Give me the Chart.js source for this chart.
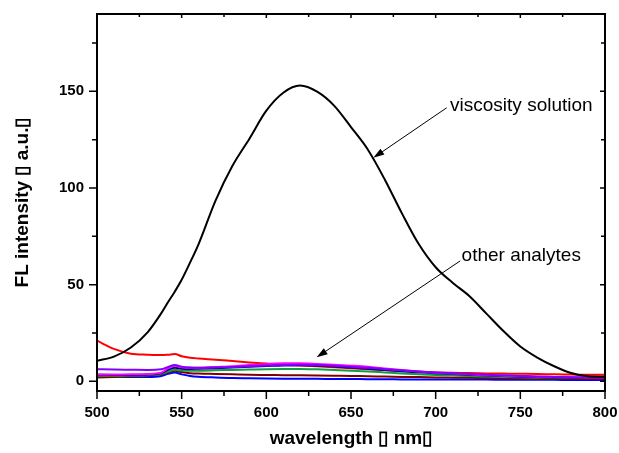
<!DOCTYPE html>
<html>
<head>
<meta charset="utf-8">
<title>FL intensity vs wavelength</title>
<script src="https://cdn.jsdelivr.net/npm/chart.js@4.4.0/dist/chart.umd.min.js"></script>
<style>
  html, body { margin: 0; padding: 0; background: #fff; }
  #wrap { width: 619px; height: 453px; }
</style>
</head>
<body>
<div id="wrap"><canvas id="myChart" width="619" height="453"></canvas></div>
<script>
// wavelength (nm), shared by every spectrum
var wavelengths = [500,510,520,530,538,542,546,550,555,560,570,580,590,600,610,620,630,640,650,660,670,680,690,700,710,720,730,740,750,760,770,780,790,800];

// FL intensity (a.u.)
var viscosity = [10.6,12.8,17.5,25.5,35.3,41,46.5,52.5,61.5,71,93.5,111.5,125.5,140,149.3,153,149.8,142.6,131.5,119.8,104.3,87,71,59,51,44,35,26,18,12.3,7.8,4.3,2.6,2.4];
var redSeries = [21,16.8,14.3,13.8,13.6,13.8,14.1,13,12.2,11.8,11.2,10.5,9.8,9.2,8.6,8.2,7.8,7.3,6.8,6.3,5.8,5.3,4.9,4.6,4.4,4.3,4.1,4,3.9,3.8,3.6,3.5,3.4,3.4];
var purpleSeries = [6.3,6.1,6,5.9,6.2,7.5,8.5,7.6,7.1,7,7.2,7.4,7.8,8.2,8.5,8.6,8.4,8,7.5,7,6.3,5.7,5.1,4.6,4.2,3.8,3.4,3.1,2.8,2.5,2.3,2.1,2,1.9];
var magentaSeries = [3.5,3.5,3.6,3.8,4.5,6.8,8,7.3,7,7,7.4,7.8,8.4,8.9,9.3,9.3,9,8.6,8.1,7.5,6.6,5.8,5.1,4.5,4,3.6,3.2,2.9,2.6,2.4,2.2,2.1,2,2];
var navySeries = [3.4,3.3,3.3,3.5,4.3,6,7,6.5,6.4,6.5,6.8,7.2,7.6,7.9,8.2,8.3,8.1,7.7,7.1,6.5,5.8,5.2,4.7,4.2,3.8,3.4,3,2.7,2.4,2.2,2,1.9,1.8,1.7];
var greenSeries = [2.9,2.9,3,3.2,3.9,5,6,5.6,5.5,5.5,5.7,5.9,6.1,6.3,6.4,6.4,6.2,5.9,5.5,5.1,4.6,4.1,3.7,3.3,3,2.7,2.5,2.3,2.1,2,1.9,1.8,1.7,1.7];
var maroonSeries = [2,2.3,2.6,3,3.6,4.7,5.5,4.8,4.2,4,3.8,3.6,3.4,3.3,3.2,3.1,3,2.9,2.8,2.6,2.5,2.3,2.2,2,1.9,1.8,1.7,1.6,1.5,1.4,1.3,1.3,1.2,1.2];
var blueSeries = [2.6,2.5,2.3,2.3,2.8,3.9,4.6,3.6,2.8,2.4,2,1.7,1.6,1.5,1.4,1.3,1.3,1.2,1.2,1.1,1.1,1,1,1,0.9,0.9,0.9,0.8,0.8,0.8,0.8,0.7,0.7,0.7];

var xTicks = [500,550,600,650,700,750,800];
var xMinorTicks = [525,575,625,675,725,775];
var yTicks = [0,50,100,150];
var yMinorTicks = [25,75,125,175];

var FONT = "'Liberation Sans', Arial, sans-serif";

function pts(vals){
  return wavelengths.map(function(w, i){ return {x: w, y: vals[i]}; });
}

function line(vals, color, width){
  return { data: pts(vals), borderColor: color, borderWidth: width, pointRadius: 0,
           cubicInterpolationMode: 'monotone', fill: false };
}

// frame round the plot plus major/minor tick marks (out on left/bottom, in on top/right)
var frameTicks = {
  id: 'frameTicks',
  afterDraw: function(chart){
    var ctx = chart.ctx, a = chart.chartArea, x = chart.scales.x, y = chart.scales.y;
    ctx.save();
    ctx.strokeStyle = '#000';
    ctx.lineWidth = 1.5;
    ctx.beginPath();
    xTicks.concat(xMinorTicks).forEach(function(v){
      var major = xTicks.indexOf(v) > -1;
      var px = x.getPixelForValue(v);
      ctx.moveTo(px, a.bottom); ctx.lineTo(px, a.bottom + (major ? 8 : 5));
      ctx.moveTo(px, a.top); ctx.lineTo(px, a.top + (major ? 4 : 3));
    });
    yTicks.concat(yMinorTicks).forEach(function(v){
      var major = yTicks.indexOf(v) > -1;
      var py = y.getPixelForValue(v);
      ctx.moveTo(a.left, py); ctx.lineTo(a.left - (major ? 8 : 5), py);
      ctx.moveTo(a.right, py); ctx.lineTo(a.right - (major ? 5 : 4), py);
    });
    ctx.stroke();
    ctx.lineWidth = 2;
    ctx.strokeRect(a.left, a.top, a.right - a.left, a.bottom - a.top);
    ctx.restore();
  }
};

// text labels with arrows, positioned in data units
var notes = [
  { text: 'viscosity solution', at: [708.5, 142.3], from: [706.5, 141.5], to: [663.2, 115.6] },
  { text: 'other analytes', at: [715.3, 64.8], from: [714.5, 62.3], to: [629.7, 12.4] }
];

var arrows = {
  id: 'arrows',
  afterDraw: function(chart){
    var ctx = chart.ctx, x = chart.scales.x, y = chart.scales.y;
    ctx.save();
    notes.forEach(function(n){
      var x1 = x.getPixelForValue(n.from[0]), y1 = y.getPixelForValue(n.from[1]);
      var x2 = x.getPixelForValue(n.to[0]), y2 = y.getPixelForValue(n.to[1]);
      var ang = Math.atan2(y2 - y1, x2 - x1);
      var len = 11, hw = 3.5;
      ctx.strokeStyle = '#000';
      ctx.lineWidth = 1;
      ctx.beginPath();
      ctx.moveTo(x1, y1);
      ctx.lineTo(x2 - Math.cos(ang) * len * 0.8, y2 - Math.sin(ang) * len * 0.8);
      ctx.stroke();
      ctx.fillStyle = '#000';
      ctx.beginPath();
      ctx.moveTo(x2, y2);
      ctx.lineTo(x2 - Math.cos(ang) * len - Math.sin(ang) * hw, y2 - Math.sin(ang) * len + Math.cos(ang) * hw);
      ctx.lineTo(x2 - Math.cos(ang) * len + Math.sin(ang) * hw, y2 - Math.sin(ang) * len - Math.cos(ang) * hw);
      ctx.closePath();
      ctx.fill();
      ctx.font = '19px ' + FONT;
      ctx.textAlign = 'left';
      ctx.textBaseline = 'middle';
      ctx.fillText(n.text, x.getPixelForValue(n.at[0]), y.getPixelForValue(n.at[1]));
    });
    ctx.restore();
  }
};

new Chart('myChart', {
  type: 'line',
  data: {
    datasets: [
      line(viscosity, '#000000', 2),
      line(purpleSeries, '#8000FF', 2),
      line(magentaSeries, '#FF00FF', 2),
      line(navySeries, '#000080', 2),
      line(greenSeries, '#109F40', 2),
      line(redSeries, '#FF0000', 2),
      line(maroonSeries, '#800000', 2),
      line(blueSeries, '#0000FF', 2)
    ]
  },
  options: {
    responsive: false,
    animation: false,
    layout: { padding: { top: 14, right: 14, left: 0, bottom: 0 } },
    plugins: { legend: { display: false }, tooltip: { enabled: false } },
    scales: {
      x: {
        type: 'linear', min: 500, max: 800,
        afterBuildTicks: function(s){ s.ticks = xTicks.map(function(v){ return {value: v}; }); },
        afterFit: function(s){ s.height = 62; s.paddingLeft = 0; s.paddingRight = 0; },
        grid: { display: false, drawTicks: false },
        border: { display: false },
        ticks: { color: '#000', padding: 13, maxRotation: 0, autoSkip: false, font: { family: FONT, size: 15, weight: 'bold' } },
        title: { display: true, text: 'wavelength ▯ nm▯', color: '#000', padding: { top: 0, bottom: 5 },
                 font: { family: FONT, size: 19, weight: 'bold', lineHeight: 1 } }
      },
      y: {
        type: 'linear', min: -5, max: 190,
        afterBuildTicks: function(s){ s.ticks = yTicks.map(function(v){ return {value: v}; }); },
        afterFit: function(s){ s.width = 97; s.paddingTop = 0; s.paddingBottom = 0; },
        grid: { display: false, drawTicks: false },
        border: { display: false },
        ticks: { color: '#000', padding: 13, font: { family: FONT, size: 15, weight: 'bold' } },
        title: { display: true, text: 'FL intensity ▯ a.u.▯', color: '#000', padding: { top: 13, bottom: 0 },
                 font: { family: FONT, size: 19, weight: 'bold', lineHeight: 1 } }
      }
    }
  },
  plugins: [frameTicks, arrows]
});
</script>
</body>
</html>
